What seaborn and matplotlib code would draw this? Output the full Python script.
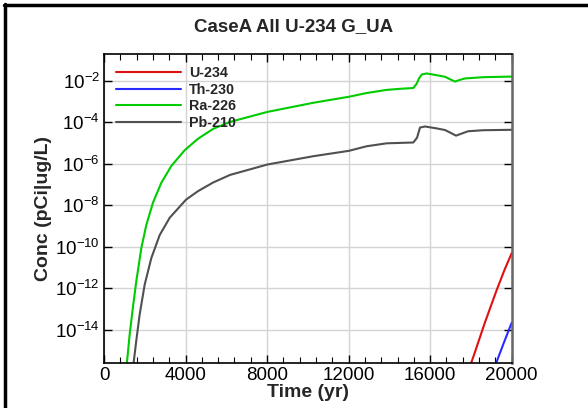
import numpy as np
import pandas as pd
import matplotlib
matplotlib.use("Agg")
import matplotlib.pyplot as plt
from matplotlib.lines import Line2D
from matplotlib.ticker import FixedLocator, MultipleLocator, NullLocator, FuncFormatter
import seaborn as sns

# ---- data (concentrations as log10 values) ----
u234_t = [17700, 18005, 18118, 18700, 19266, 19650, 20000]
u234_logc = [-16.8, -15.6, -15.29, -13.6, -12.07, -11.1, -10.30]

th230_t = [19000, 19232, 19600, 20000]
th230_logc = [-16.6, -15.6, -14.65, -13.65]

ra226_t = [1000, 1128, 1261, 1423, 1585, 1830, 2075, 2404, 2811, 3302, 3959, 4612, 5362,
           6182, 8012, 10268, 12020, 12888, 13869, 14500, 15174, 15341, 15450, 15587, 15832,
           16300, 16730, 17000, 17220, 17450, 17711, 18594, 20000]
ra226_logc = [-16.5, -15.54, -14.19, -12.87, -11.65, -10.06, -8.95, -7.87, -6.92, -6.11, -5.35,
              -4.80, -4.32, -3.99, -3.51, -3.07, -2.78, -2.6, -2.45, -2.40, -2.36, -2.15, -1.9,
              -1.71, -1.66, -1.74, -1.82, -1.95, -2.05, -1.97, -1.90, -1.84, -1.81]

pb210_t = [1350, 1457, 1585, 1751, 1997, 2321, 2733, 3223, 4023, 4612, 5362, 6182, 8012,
           10268, 12020, 12888, 13869, 15174, 15356, 15503, 15748, 16300, 16730, 17269,
           17858, 18600, 20000]
pb210_logc = [-16.5, -15.54, -14.50, -13.24, -11.81, -10.54, -9.43, -8.6, -7.73, -7.32, -6.90,
              -6.54, -6.04, -5.64, -5.38, -5.16, -5.02, -4.98, -4.75, -4.26, -4.21, -4.30,
              -4.38, -4.65, -4.44, -4.39, -4.37]

series_names = ["U-234", "Th-230", "Ra-226", "Pb-210"]
series_colors = ["#e01010", "#2a2aff", "#00cc00", "#505050"]

title = "CaseA All U-234 G_UA"
xlabel = "Time (yr)"
ylabel = "Conc (pCi|ug/L)"
xticks = [0, 4000, 8000, 12000, 16000, 20000]
yticks_exp = [-2, -4, -6, -8, -10, -12, -14]

frames = []
for name, t, lc in zip(series_names,
                       [u234_t, th230_t, ra226_t, pb210_t],
                       [u234_logc, th230_logc, ra226_logc, pb210_logc]):
    frames.append(pd.DataFrame({"Time": t, "Conc": 10.0 ** np.array(lc), "Nuclide": name}))
df = pd.concat(frames, ignore_index=True)

# ---- style ----
sns.set_style("ticks")
plt.rcParams["font.family"] = ["Liberation Sans", "DejaVu Sans"]
plt.rcParams["mathtext.fontset"] = "custom"
plt.rcParams["mathtext.rm"] = "Liberation Sans"
plt.rcParams["mathtext.default"] = "regular"

fig = plt.figure(figsize=(5.88, 4.08), dpi=100)
ax = fig.add_axes([104 / 588, 1 - 363.3 / 408, (511.7 - 104) / 588, (363.3 - 53.5) / 408])

sns.lineplot(data=df, x="Time", y="Conc", hue="Nuclide", hue_order=series_names,
             palette=series_colors, ax=ax, linewidth=1.5, sort=True, estimator=None)

ax.set_yscale("log")
ax.set_xlim(0, 20000)
ax.set_ylim(10 ** -15.6, 10 ** -0.7)

ax.xaxis.set_major_locator(FixedLocator(xticks))
ax.xaxis.set_minor_locator(MultipleLocator(800))
ax.yaxis.set_major_locator(FixedLocator([10.0 ** e for e in yticks_exp]))
ax.yaxis.set_minor_locator(NullLocator())
ax.yaxis.set_major_formatter(FuncFormatter(lambda v, p: r"$10^{%d}$" % int(round(np.log10(v)))))
ax.xaxis.set_major_formatter(FuncFormatter(lambda v, p: "%d" % v))

ax.grid(True, which="major", color="#d4d4d4", linewidth=1.0)
ax.set_axisbelow(True)
ax.tick_params(which="both", direction="in", top=True, right=True, colors="black")
ax.tick_params(which="major", length=6, width=1, labelsize=13.5)
ax.tick_params(which="minor", length=4, width=0.8)
ax.tick_params(axis="y", which="major", pad=3)
ax.tick_params(axis="x", which="major", pad=3)

for side in ["left", "bottom", "top"]:
    ax.spines[side].set_color("black")
    ax.spines[side].set_linewidth(1.2)
ax.spines["right"].set_color("#666666")
ax.spines["right"].set_linewidth(1.8)

ax.set_xlabel(xlabel, fontsize=14, fontweight="bold", labelpad=0)
ax.set_ylabel(ylabel, fontsize=14, fontweight="bold", labelpad=2)
fig.text(0.5, 1 - 27 / 408, title, ha="center", va="center", fontsize=13.5, fontweight="bold")

handles, labels = ax.get_legend_handles_labels()
leg = ax.legend(handles, labels, loc="upper left", bbox_to_anchor=(0.0, 1.0), frameon=False,
                prop={"weight": "bold", "size": 10.3}, handlelength=4.5, handletextpad=0.6,
                labelspacing=0.2, borderpad=0.65, borderaxespad=0.2)
for lh in leg.get_lines():
    lh.set_linewidth(1.5)

# figure border (top and left edges visible)
fig.add_artist(Line2D([4 / 588, 1.0], [1 - 5 / 408, 1 - 5 / 408], transform=fig.transFigure,
                      color="black", linewidth=2.5))
fig.add_artist(Line2D([5 / 588, 5 / 588], [0.0, 1 - 4 / 408], transform=fig.transFigure,
                      color="black", linewidth=2.5))

fig.savefig("out.png", dpi=100)
